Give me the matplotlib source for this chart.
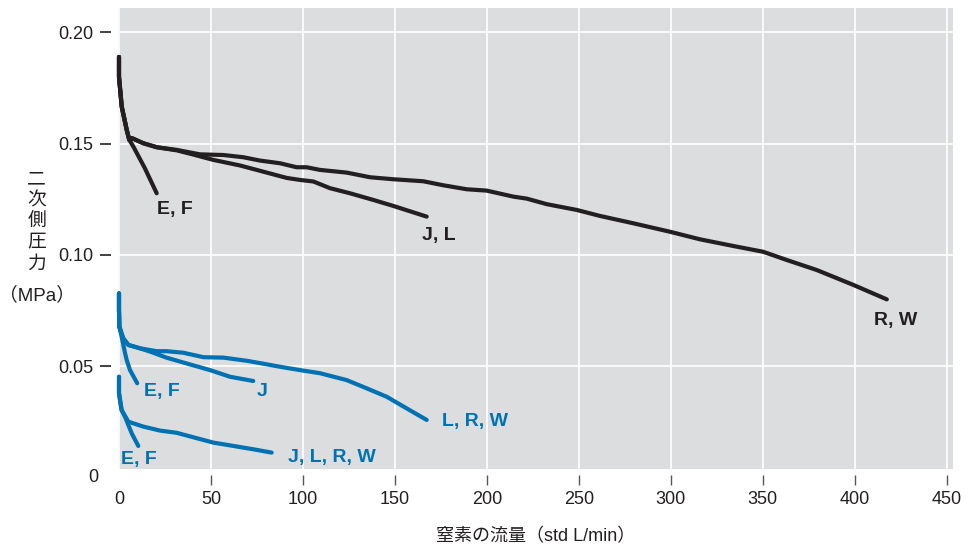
import matplotlib
matplotlib.use("Agg")
import matplotlib.pyplot as plt

plt.rcParams['font.family'] = ['Liberation Sans', 'Noto Sans CJK JP', 'DejaVu Sans']

# black curves (upper group)
blk_ef_x = [0, 0, 1.5, 4.2, 5.6, 7.8, 14.1, 20.5]
blk_ef_y = [0.189, 0.180, 0.1666, 0.1562, 0.1517, 0.1487, 0.1389, 0.1277]

blk_jl_x = [0, 0, 1.5, 4.2, 5.6, 7.0, 13.2, 20.5, 31.4, 40.0, 51.3, 65.8, 78.5, 91.2, 98.4,
            105.7, 114.7, 125.6, 138.3, 149.2, 167.3]
blk_jl_y = [0.189, 0.180, 0.1666, 0.1562, 0.1517, 0.1525, 0.1502, 0.1484, 0.1470, 0.1452,
            0.1427, 0.1402, 0.1374, 0.1346, 0.1337, 0.1330, 0.1300, 0.1277, 0.1247, 0.1220, 0.1172]

blk_rw_x = [0, 0, 1.5, 4.2, 5.6, 7.0, 13.2, 20.5, 31.4, 44.0, 56.8, 67.6, 76.7, 87.5, 96.6,
            102.0, 109.3, 123.8, 136.5, 149.2, 165.5, 176.3, 189.1, 199.9, 214.4, 221.7,
            232.6, 248.9, 261.6, 279.7, 299.6, 315.9, 334.0, 350.3, 363.1, 379.4, 399.3, 417.5]
blk_rw_y = [0.189, 0.180, 0.1666, 0.1562, 0.1517, 0.1525, 0.1502, 0.1484, 0.1472, 0.1452,
            0.1449, 0.1439, 0.1424, 0.1412, 0.1394, 0.1394, 0.1382, 0.1370, 0.1349, 0.1340,
            0.1331, 0.1313, 0.1295, 0.1289, 0.1262, 0.1253, 0.1228, 0.1202, 0.1175, 0.1142,
            0.1104, 0.1070, 0.1040, 0.1014, 0.0977, 0.0932, 0.0865, 0.0800]

# blue curves, middle group
bu_ef_x = [0, 0, 0.2, 1.5, 3.3, 4.2, 6.0, 9.9]
bu_ef_y = [0.0827, 0.0752, 0.0677, 0.0630, 0.0558, 0.0527, 0.0482, 0.0423]

bu_j_x = [0, 0, 0.2, 2.3, 5.1, 11.4, 18.0, 25.8, 36.7, 49.5, 60.4, 73.0]
bu_j_y = [0.0827, 0.0752, 0.0677, 0.0625, 0.0595, 0.0580, 0.0562, 0.0538, 0.0512, 0.0482,
          0.0452, 0.0433]

bu_lrw_x = [0, 0, 0.2, 2.3, 5.1, 11.4, 20.5, 25.8, 35.0, 45.9, 56.8, 69.4, 80.3, 87.5, 98.4,
            109.3, 123.8, 134.7, 145.6, 156.4, 167.3]
bu_lrw_y = [0.0827, 0.0752, 0.0677, 0.0625, 0.0595, 0.0580, 0.0567, 0.0567, 0.0560, 0.0540,
            0.0538, 0.0524, 0.0508, 0.0497, 0.0482, 0.0468, 0.0437, 0.0400, 0.0362, 0.0310, 0.0258]

# blue curves, lower group
bl_ef_x = [0, 0, 1.4, 3.3, 6.9, 10.5]
bl_ef_y = [0.0452, 0.0378, 0.0303, 0.0272, 0.0198, 0.0141]

bl_jlrw_x = [0, 0, 1.4, 5.1, 13.2, 22.3, 31.4, 40.4, 51.3, 62.2, 73.0, 83.0]
bl_jlrw_y = [0.0452, 0.0378, 0.0303, 0.0250, 0.0228, 0.0210, 0.0200, 0.0180, 0.0156, 0.0141,
             0.0126, 0.0111]

xticks = [0, 50, 100, 150, 200, 250, 300, 350, 400, 450]
yticks = [0.05, 0.10, 0.15, 0.20]
ytick_labels = ['0.05', '0.10', '0.15', '0.20']

BLACK = '#231f20'
BLUE = '#0071b2'
BG = '#dcdddf'

fig = plt.figure(figsize=(9.7, 5.48), dpi=100)
ax = fig.add_axes([118 / 970, 79 / 548, 835 / 970, 461 / 548])
ax.set_facecolor(BG)

lw = 3.0
style = dict(lw=lw, solid_capstyle='round', solid_joinstyle='round', clip_on=False, zorder=3)
for xs, ys in [(blk_ef_x, blk_ef_y), (blk_jl_x, blk_jl_y), (blk_rw_x, blk_rw_y)]:
    ax.plot(xs, ys, color=BLACK, **style)
for xs, ys in [(bu_ef_x, bu_ef_y), (bu_j_x, bu_j_y), (bu_lrw_x, bu_lrw_y),
               (bl_ef_x, bl_ef_y), (bl_jlrw_x, bl_jlrw_y)]:
    ax.plot(xs, ys, color=BLUE, **style)

# curve labels
lab = dict(fontsize=14, fontweight='bold', ha='center', va='center')
ax.text(30.5, 0.1202, 'E, F', color=BLACK, **lab)
ax.text(174, 0.1089, 'J, L', color=BLACK, **lab)
ax.text(422.5, 0.0703, 'R, W', color=BLACK, **lab)
ax.text(23.4, 0.0386, 'E, F', color=BLUE, **lab)
ax.text(77.8, 0.0384, 'J', color=BLUE, **lab)
ax.text(193.6, 0.0253, 'L, R, W', color=BLUE, **lab)
ax.text(10.9, 0.0078, 'E, F', color=BLUE, **lab)
ax.text(115.8, 0.0091, 'J, L, R, W', color=BLUE, **lab)

ax.set_xlim(-0.54, 453.5)
ax.set_ylim(0.00373, 0.2110)

ax.set_xticks(xticks)
ax.set_xticklabels([str(v) for v in xticks])
ax.set_yticks(yticks)
ax.set_yticklabels(ytick_labels)

for s in ax.spines.values():
    s.set_visible(False)
ax.spines['left'].set_position(('outward', 5))
ax.spines['bottom'].set_position(('outward', 4))

ax.tick_params(axis='y', length=8, width=1.2, color=BLACK, pad=5, labelsize=13, labelcolor=BLACK)
ax.tick_params(axis='x', length=7, width=1.0, color='#555555', pad=5, labelsize=13, labelcolor=BLACK)
ax.xaxis.get_major_ticks()[0].tick1line.set_visible(False)

ax.grid(True, color='white', lw=1.2)
ax.set_axisbelow(True)

# "0" on the y axis sits just below the plotting area
ax.text(-0.024, 0.0, '0', transform=ax.get_yaxis_transform(), ha='right', va='center',
        fontsize=13, color=BLACK, clip_on=False)

# y axis title, stacked vertically
ychars = '二次側圧力'
for i, ch in enumerate(ychars):
    fig.text(36.7 / 970, 1 - (179 + i * 21.1) / 548, ch, ha='center', va='center',
             fontsize=13.5, color=BLACK, family=['Noto Sans CJK JP'])
fig.text(37 / 970, 1 - 295 / 548, '（MPa）', ha='center', va='center', fontsize=13.5, color=BLACK)

fig.text(535.5 / 970, 1 - 536.7 / 548, '窒素の流量（std L/min）', ha='center', va='center',
         fontsize=13, color=BLACK)

fig.savefig('out.png', dpi=100)
